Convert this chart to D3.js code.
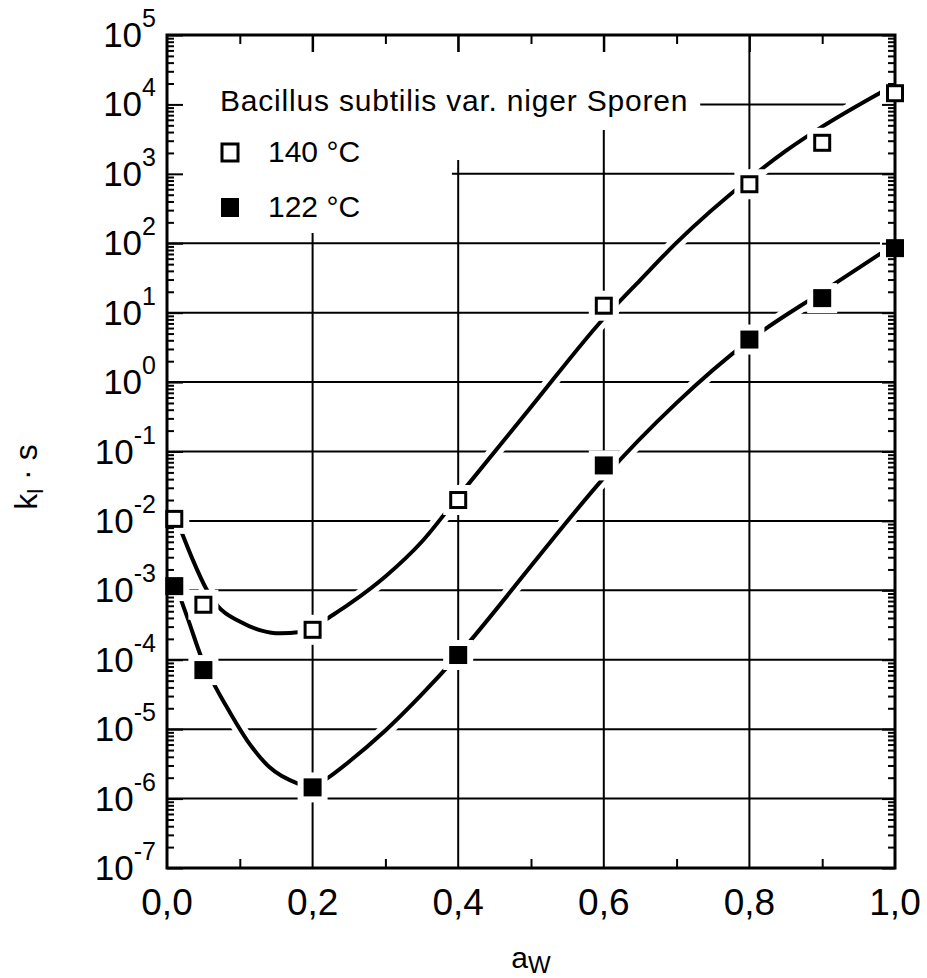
<!DOCTYPE html>
<html>
<head>
<meta charset="utf-8">
<script src="https://cdn.jsdelivr.net/npm/d3@7"></script>
<style>
  body { margin: 0; background: #fff; }
  text { font-family: "Liberation Sans", Arial, sans-serif; fill: #000; }
</style>
</head>
<body>
<div id="chart"></div>
<script>
// x ticks (a_W) and y decades
const xTicks = [0, 0.2, 0.4, 0.6, 0.8, 1.0];
const xTickLabels = ["0,0", "0,2", "0,4", "0,6", "0,8", "1,0"];
const xMinor = [0.1, 0.3, 0.5, 0.7, 0.9];
const yExponents = [5, 4, 3, 2, 1, 0, -1, -2, -3, -4, -5, -6, -7];

// measured points
const aw140 = [0.01, 0.05, 0.2, 0.4, 0.6, 0.8, 0.9, 1.0];
const k140 = [1.07e-2, 6.2e-4, 2.7e-4, 2.0e-2, 12.6, 708, 2.8e3, 1.45e4];
const aw122 = [0.01, 0.05, 0.2, 0.4, 0.6, 0.8, 0.9, 1.0];
const k122 = [1.15e-3, 7.1e-5, 1.45e-6, 1.17e-4, 6.3e-2, 4.1, 16.2, 85];

// fitted curves (a_W, log10 k)
const fitAw140 = [0.02, 0.035, 0.054, 0.07, 0.1, 0.13, 0.155, 0.183, 0.2, 0.217, 0.25, 0.3, 0.35, 0.4, 0.5, 0.6, 0.65, 0.7, 0.8, 0.85, 0.9, 0.98];
const fitLog140 = [-2.16, -2.55, -2.98, -3.23, -3.45, -3.58, -3.62, -3.6, -3.55, -3.43, -3.2, -2.8, -2.3, -1.65, -0.36, 0.92, 1.47, 2.01, 2.93, 3.33, 3.68, 4.17];
const fitAw122 = [0.018, 0.03, 0.047, 0.063, 0.087, 0.11, 0.141, 0.179, 0.2, 0.22, 0.25, 0.3, 0.35, 0.4, 0.5, 0.54, 0.6, 0.7, 0.8, 0.9, 0.98];
const fitLog122 = [-3.1, -3.45, -3.96, -4.32, -4.77, -5.16, -5.55, -5.78, -5.84, -5.71, -5.47, -5.02, -4.5, -3.93, -2.65, -2.13, -1.38, -0.3, 0.6, 1.3, 1.85];

const legendTitle = "Bacillus subtilis var. niger Sporen";
const seriesNames = ["140 °C", "122 °C"];

const svg_width = 927, svg_height = 978;
const plot = { left: 167, right: 895, top: 35, bottom: 868 };

const svg = d3.select("#chart").append("svg")
    .attr("width", svg_width)
    .attr("height", svg_height);

const x = d3.scaleLinear().domain([0, 1]).range([plot.left, plot.right]);
const y = d3.scaleLog().domain([1e-7, 1e5]).range([plot.bottom, plot.top]);

const decades = yExponents.map(e => Math.pow(10, e));
const minorY = [];
yExponents.slice(1).forEach(e => {
    for (let k = 2; k <= 9; k++) minorY.push(k * Math.pow(10, e));
});

// grid
const grid = svg.append("g").attr("stroke", "#000").attr("stroke-width", 2);
grid.selectAll(".gx")
    .data(xTicks.slice(1, -1))
    .enter().append("line")
    .attr("x1", d => x(d)).attr("x2", d => x(d))
    .attr("y1", plot.top).attr("y2", plot.bottom);
grid.selectAll(".gy")
    .data(decades.slice(1, -1))
    .enter().append("line")
    .attr("x1", plot.left).attr("x2", plot.right)
    .attr("y1", d => y(d)).attr("y2", d => y(d));

// blank the grid behind the legend
const masks = svg.append("g").attr("fill", "#fff");

// legend title (measured so the masks can follow it)
const titleText = svg.append("text")
    .attr("x", 220)
    .attr("y", 111)
    .style("font-size", "30px")
    .style("letter-spacing", "0.8px")
    .text(legendTitle);
const tb = titleText.node().getBBox();

masks.append("rect").attr("x", plot.left + 1).attr("y", 52).attr("width", x(0.39) - plot.left).attr("height", 233 - 52);
masks.append("rect").attr("x", x(0.39)).attr("y", 52).attr("width", x(0.595) - x(0.39)).attr("height", 160 - 52);
masks.append("rect").attr("x", x(0.595)).attr("y", 52).attr("width", tb.x + tb.width + 12 - x(0.595)).attr("height", 130 - 52);
masks.append("rect").attr("x", 846).attr("y", y(1e4) - 6).attr("width", plot.right - 846).attr("height", 12);

// curves
const line = d3.line()
    .x(d => x(d[0]))
    .y(d => y(Math.pow(10, d[1])))
    .curve(d3.curveMonotoneX);

const curves = [d3.zip(fitAw140, fitLog140), d3.zip(fitAw122, fitLog122)];
const curveG = svg.append("g");
curveG.selectAll(".halo")
    .data(curves)
    .enter().append("path")
    .attr("d", line)
    .attr("fill", "none")
    .attr("stroke", "#fff")
    .attr("stroke-width", 14);
curveG.selectAll(".curve")
    .data(curves)
    .enter().append("path")
    .attr("d", line)
    .attr("fill", "none")
    .attr("stroke", "#000")
    .attr("stroke-width", 4)
    .attr("stroke-linecap", "round");

// marker halos
const pts140 = d3.zip(aw140, k140);
const pts122 = d3.zip(aw122, k122);
const ms = 18;
svg.append("g").selectAll("rect")
    .data(pts140.concat(pts122))
    .enter().append("rect")
    .attr("x", d => x(d[0]) - ms / 2)
    .attr("y", d => y(d[1]) - ms / 2)
    .attr("width", ms).attr("height", ms)
    .attr("fill", "#fff")
    .attr("stroke", "#fff")
    .attr("stroke-width", 12);

// axes with inward ticks
function styleAxis(g) {
    g.select(".domain").remove();
    g.selectAll("line").attr("stroke", "#000").attr("stroke-width", 2);
    g.selectAll("text").remove();
}
svg.append("g").attr("transform", `translate(${plot.left},0)`)
    .call(d3.axisLeft(y).tickValues(minorY).tickSize(-7).tickSizeOuter(0).tickFormat("")).call(styleAxis);
svg.append("g").attr("transform", `translate(${plot.left},0)`)
    .call(d3.axisLeft(y).tickValues(decades).tickSize(-16).tickSizeOuter(0).tickFormat("")).call(styleAxis);
svg.append("g").attr("transform", `translate(${plot.right},0)`)
    .call(d3.axisRight(y).tickValues(minorY).tickSize(-7).tickSizeOuter(0).tickFormat("")).call(styleAxis);
svg.append("g").attr("transform", `translate(${plot.right},0)`)
    .call(d3.axisRight(y).tickValues(decades).tickSize(-13).tickSizeOuter(0).tickFormat("")).call(styleAxis);
svg.append("g").attr("transform", `translate(0,${plot.top})`)
    .call(d3.axisTop(x).tickValues(xMinor).tickSize(-9).tickSizeOuter(0).tickFormat("")).call(styleAxis);
svg.append("g").attr("transform", `translate(0,${plot.top})`)
    .call(d3.axisTop(x).tickValues(xTicks.slice(1, -1)).tickSize(-17).tickSizeOuter(0).tickFormat("")).call(styleAxis);
svg.append("g").attr("transform", `translate(0,${plot.bottom})`)
    .call(d3.axisBottom(x).tickValues(xMinor).tickSize(-9).tickSizeOuter(0).tickFormat("")).call(styleAxis);

svg.append("rect")
    .attr("x", plot.left).attr("y", plot.top)
    .attr("width", plot.right - plot.left).attr("height", plot.bottom - plot.top)
    .attr("fill", "none")
    .attr("stroke", "#000")
    .attr("stroke-width", 3);

// markers
svg.append("g").selectAll("rect")
    .data(pts140)
    .enter().append("rect")
    .attr("x", d => x(d[0]) - ms / 2 + 1.5)
    .attr("y", d => y(d[1]) - ms / 2 + 1.5)
    .attr("width", ms - 3).attr("height", ms - 3)
    .attr("fill", "#fff")
    .attr("stroke", "#000")
    .attr("stroke-width", 3);
svg.append("g").selectAll("rect")
    .data(pts122)
    .enter().append("rect")
    .attr("x", d => x(d[0]) - ms / 2)
    .attr("y", d => y(d[1]) - ms / 2)
    .attr("width", ms).attr("height", ms)
    .attr("fill", "#000");

// tick labels
svg.append("g").selectAll("text")
    .data(xTicks)
    .enter().append("text")
    .attr("x", d => x(d))
    .attr("y", 915)
    .attr("text-anchor", "middle")
    .style("font-size", "37px")
    .text((d, i) => xTickLabels[i]);

const yl = svg.append("g").selectAll("text")
    .data(yExponents)
    .enter().append("text")
    .attr("x", 156)
    .attr("y", d => y(Math.pow(10, d)) + 12)
    .attr("text-anchor", "end")
    .style("font-size", "35px");
yl.append("tspan").text("10");
yl.append("tspan").attr("dy", -20).style("font-size", "25px").text(d => d < 0 ? "-" + (-d) : String(d));

// axis titles
const xt = svg.append("text")
    .attr("x", (plot.left + plot.right) / 2)
    .attr("y", 968)
    .attr("text-anchor", "middle")
    .style("font-size", "30px");
xt.append("tspan").text("a");
xt.append("tspan").attr("dy", 5).style("font-size", "24px").text("W");

const ytl = svg.append("text")
    .attr("transform", "translate(37,477) rotate(-90)")
    .attr("text-anchor", "middle")
    .style("font-size", "32px");
ytl.append("tspan").text("k");
ytl.append("tspan").attr("dy", 6).style("font-size", "22px").text("l");
ytl.append("tspan").attr("dy", -6).text(" · s");

// legend entries
const legend = svg.append("g");
legend.append("rect")
    .attr("x", 222).attr("y", 144).attr("width", 16).attr("height", 17)
    .attr("fill", "#fff").attr("stroke", "#000").attr("stroke-width", 3);
legend.append("rect")
    .attr("x", 221).attr("y", 198).attr("width", 18).attr("height", 19)
    .attr("fill", "#000");
legend.selectAll(".lt")
    .data(seriesNames)
    .enter().append("text")
    .attr("x", 268)
    .attr("y", (d, i) => 162 + i * 55)
    .style("font-size", "30px")
    .text(d => d);
</script>
</body>
</html>
